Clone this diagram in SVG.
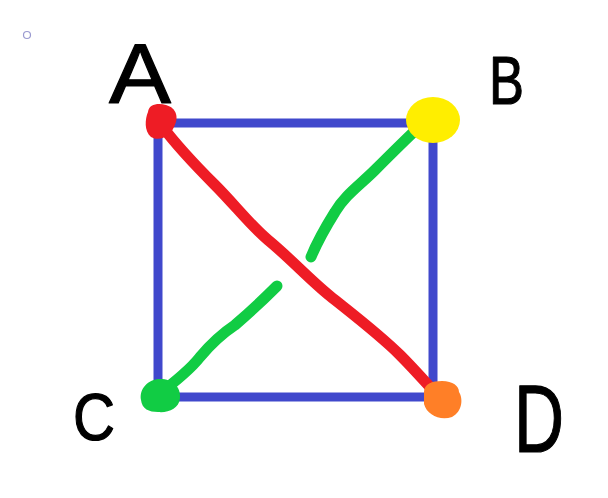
<svg xmlns="http://www.w3.org/2000/svg" width="608" height="498" viewBox="0 0 608 498">
<style>
.edge{fill:none;stroke-linecap:round;stroke-linejoin:round;stroke-width:11}
.lbl{font-family:"Liberation Sans",Arial,sans-serif;fill:#000;stroke:#000;stroke-width:1.2;stroke-linejoin:round}
</style>
<rect width="608" height="498" fill="#fff"/>
<circle cx="27" cy="35" r="3.5" fill="none" stroke="#9a9ad0" stroke-width="1.2"/>
<g id="connectors">
<rect x="158" y="123" width="275" height="274" fill="none" stroke="#4048cc" stroke-width="9"/>
<path class="edge" stroke="#ee1c25" d="M162,126 C180,150 200,170 215,185 C235,205 250,225 268,240 C290,258 310,280 330,296 C355,316 380,335 400,355 C415,370 428,385 440,398"/>
<path class="edge" stroke="#11cc44" d="M420,126 C405,140 390,155 375,170 C360,185 345,195 335,212 C325,228 318,240 311,257"/>
<path class="edge" stroke="#11cc44" d="M277,286 C265,298 250,312 235,325 C220,335 210,345 200,357 C190,370 175,382 155,397"/>
</g>
<g id="A">
<path d="M148,112 C149,104 158,103 166,105 C177,108 179,118 174,127 C170,136 160,142 151,137 C144,131 145,119 148,112 Z" fill="#ee1c25"/>
<text class="lbl" x="109" y="103" font-size="86" textLength="62" lengthAdjust="spacingAndGlyphs">A</text>
</g>
<g id="B">
<ellipse cx="433" cy="120" rx="27" ry="23" fill="#ffee00"/>
<text class="lbl" x="489" y="104" font-size="68" textLength="35" lengthAdjust="spacingAndGlyphs">B</text>
</g>
<g id="C">
<path d="M141,400 C139,389 148,379 160,379 C173,379 181,387 180,398 C179,409 168,413 158,412 C149,412 142,409 141,400 Z" fill="#11cc44"/>
<text class="lbl" x="73" y="440" font-size="66" textLength="42" lengthAdjust="spacingAndGlyphs">C</text>
</g>
<g id="D">
<path d="M424,392 C424,384 432,381 442,381 C453,381 459,386 459,392 C463,398 463,411 452,417 C440,421 427,415 424,404 Z" fill="#ff7f27"/>
<text class="lbl" x="514" y="452" font-size="96" textLength="50" lengthAdjust="spacingAndGlyphs">D</text>
</g>
</svg>
